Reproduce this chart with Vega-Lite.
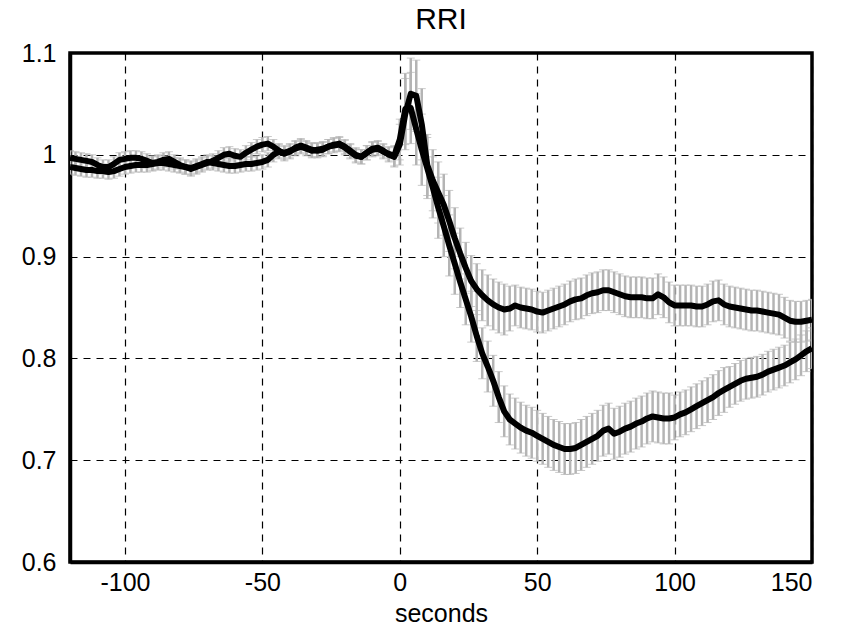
{
  "$schema": "https://vega.github.io/schema/vega-lite/v6.json",
  "width": 742,
  "height": 509,
  "autosize": {"type": "none"},
  "padding": {"left": 70, "top": 53, "right": 46, "bottom": 69},
  "background": "white",
  "title": {"text": "RRI", "fontSize": 30, "font": "Liberation Sans", "fontWeight": "normal", "color": "black", "offset": 6, "anchor": "middle"},
  "config": {
    "view": {"stroke": "black", "strokeWidth": 3.5},
    "axis": {"labelFont": "Liberation Sans", "titleFont": "Liberation Sans", "labelFontSize": 25, "titleFontSize": 25, "labelColor": "black", "titleColor": "black", "titleFontWeight": "normal", "domain": true, "domainColor": "black", "domainWidth": 3.5, "grid": true, "gridColor": "black", "gridDash": [7, 6], "gridWidth": 1.2, "gridOpacity": 1, "ticks": false}
  },
  "data": {"values": [
    {"t": -120, "a": 0.997, "b": 0.988, "ae": 0.007, "be": 0.007},
    {"t": -118, "a": 0.996, "b": 0.987, "ae": 0.007, "be": 0.007},
    {"t": -116, "a": 0.995, "b": 0.986, "ae": 0.007, "be": 0.007},
    {"t": -114, "a": 0.994, "b": 0.985, "ae": 0.007, "be": 0.007},
    {"t": -112, "a": 0.993, "b": 0.985, "ae": 0.007, "be": 0.007},
    {"t": -110, "a": 0.990, "b": 0.984, "ae": 0.007, "be": 0.007},
    {"t": -108, "a": 0.988, "b": 0.984, "ae": 0.007, "be": 0.007},
    {"t": -106, "a": 0.988, "b": 0.983, "ae": 0.007, "be": 0.007},
    {"t": -104, "a": 0.991, "b": 0.984, "ae": 0.007, "be": 0.007},
    {"t": -102, "a": 0.995, "b": 0.986, "ae": 0.007, "be": 0.007},
    {"t": -100, "a": 0.996, "b": 0.988, "ae": 0.007, "be": 0.007},
    {"t": -98, "a": 0.997, "b": 0.989, "ae": 0.007, "be": 0.007},
    {"t": -96, "a": 0.997, "b": 0.990, "ae": 0.007, "be": 0.007},
    {"t": -94, "a": 0.996, "b": 0.990, "ae": 0.007, "be": 0.007},
    {"t": -92, "a": 0.994, "b": 0.990, "ae": 0.007, "be": 0.007},
    {"t": -90, "a": 0.992, "b": 0.991, "ae": 0.007, "be": 0.007},
    {"t": -88, "a": 0.993, "b": 0.992, "ae": 0.007, "be": 0.007},
    {"t": -86, "a": 0.995, "b": 0.992, "ae": 0.007, "be": 0.007},
    {"t": -84, "a": 0.996, "b": 0.991, "ae": 0.007, "be": 0.007},
    {"t": -82, "a": 0.993, "b": 0.990, "ae": 0.007, "be": 0.007},
    {"t": -80, "a": 0.990, "b": 0.989, "ae": 0.007, "be": 0.007},
    {"t": -78, "a": 0.988, "b": 0.988, "ae": 0.007, "be": 0.007},
    {"t": -76, "a": 0.986, "b": 0.987, "ae": 0.007, "be": 0.007},
    {"t": -74, "a": 0.988, "b": 0.989, "ae": 0.007, "be": 0.007},
    {"t": -72, "a": 0.990, "b": 0.991, "ae": 0.007, "be": 0.007},
    {"t": -70, "a": 0.992, "b": 0.993, "ae": 0.007, "be": 0.007},
    {"t": -68, "a": 0.994, "b": 0.992, "ae": 0.007, "be": 0.007},
    {"t": -66, "a": 0.997, "b": 0.991, "ae": 0.007, "be": 0.007},
    {"t": -64, "a": 1.000, "b": 0.990, "ae": 0.007, "be": 0.007},
    {"t": -62, "a": 1.001, "b": 0.989, "ae": 0.007, "be": 0.007},
    {"t": -60, "a": 0.999, "b": 0.989, "ae": 0.007, "be": 0.007},
    {"t": -58, "a": 0.998, "b": 0.990, "ae": 0.007, "be": 0.007},
    {"t": -56, "a": 1.002, "b": 0.991, "ae": 0.007, "be": 0.007},
    {"t": -54, "a": 1.005, "b": 0.991, "ae": 0.007, "be": 0.007},
    {"t": -52, "a": 1.008, "b": 0.992, "ae": 0.007, "be": 0.007},
    {"t": -50, "a": 1.010, "b": 0.993, "ae": 0.007, "be": 0.007},
    {"t": -48, "a": 1.011, "b": 0.995, "ae": 0.007, "be": 0.007},
    {"t": -46, "a": 1.008, "b": 1.000, "ae": 0.007, "be": 0.007},
    {"t": -44, "a": 1.004, "b": 1.003, "ae": 0.007, "be": 0.007},
    {"t": -42, "a": 1.001, "b": 1.002, "ae": 0.007, "be": 0.007},
    {"t": -40, "a": 1.003, "b": 1.004, "ae": 0.007, "be": 0.007},
    {"t": -38, "a": 1.007, "b": 1.006, "ae": 0.007, "be": 0.007},
    {"t": -36, "a": 1.009, "b": 1.008, "ae": 0.007, "be": 0.007},
    {"t": -34, "a": 1.007, "b": 1.006, "ae": 0.007, "be": 0.007},
    {"t": -32, "a": 1.005, "b": 1.004, "ae": 0.007, "be": 0.007},
    {"t": -30, "a": 1.004, "b": 1.005, "ae": 0.007, "be": 0.007},
    {"t": -28, "a": 1.005, "b": 1.006, "ae": 0.007, "be": 0.007},
    {"t": -26, "a": 1.008, "b": 1.008, "ae": 0.007, "be": 0.007},
    {"t": -24, "a": 1.010, "b": 1.009, "ae": 0.007, "be": 0.007},
    {"t": -22, "a": 1.011, "b": 1.010, "ae": 0.007, "be": 0.007},
    {"t": -20, "a": 1.008, "b": 1.007, "ae": 0.007, "be": 0.007},
    {"t": -18, "a": 1.004, "b": 1.003, "ae": 0.007, "be": 0.007},
    {"t": -16, "a": 1.000, "b": 0.999, "ae": 0.007, "be": 0.007},
    {"t": -14, "a": 0.998, "b": 0.998, "ae": 0.007, "be": 0.007},
    {"t": -12, "a": 1.002, "b": 1.002, "ae": 0.007, "be": 0.007},
    {"t": -10, "a": 1.006, "b": 1.005, "ae": 0.007, "be": 0.007},
    {"t": -8, "a": 1.007, "b": 1.006, "ae": 0.007, "be": 0.007},
    {"t": -6, "a": 1.004, "b": 1.003, "ae": 0.007, "be": 0.007},
    {"t": -4, "a": 1.000, "b": 1.001, "ae": 0.007, "be": 0.007},
    {"t": -2, "a": 0.998, "b": 0.999, "ae": 0.010, "be": 0.010},
    {"t": 0, "a": 1.010, "b": 1.015, "ae": 0.020, "be": 0.020},
    {"t": 2, "a": 1.040, "b": 1.045, "ae": 0.035, "be": 0.035},
    {"t": 4, "a": 1.060, "b": 1.046, "ae": 0.035, "be": 0.035},
    {"t": 6, "a": 1.058, "b": 1.025, "ae": 0.035, "be": 0.035},
    {"t": 8, "a": 1.030, "b": 1.005, "ae": 0.035, "be": 0.035},
    {"t": 10, "a": 0.990, "b": 0.987, "ae": 0.030, "be": 0.030},
    {"t": 12, "a": 0.975, "b": 0.968, "ae": 0.030, "be": 0.030},
    {"t": 14, "a": 0.963, "b": 0.948, "ae": 0.030, "be": 0.030},
    {"t": 16, "a": 0.951, "b": 0.930, "ae": 0.030, "be": 0.030},
    {"t": 18, "a": 0.935, "b": 0.911, "ae": 0.030, "be": 0.030},
    {"t": 20, "a": 0.918, "b": 0.893, "ae": 0.030, "be": 0.030},
    {"t": 22, "a": 0.903, "b": 0.875, "ae": 0.025, "be": 0.025},
    {"t": 24, "a": 0.889, "b": 0.858, "ae": 0.025, "be": 0.025},
    {"t": 26, "a": 0.876, "b": 0.841, "ae": 0.025, "be": 0.025},
    {"t": 28, "a": 0.868, "b": 0.822, "ae": 0.025, "be": 0.025},
    {"t": 30, "a": 0.862, "b": 0.805, "ae": 0.025, "be": 0.025},
    {"t": 32, "a": 0.857, "b": 0.792, "ae": 0.025, "be": 0.025},
    {"t": 34, "a": 0.853, "b": 0.778, "ae": 0.025, "be": 0.025},
    {"t": 36, "a": 0.850, "b": 0.762, "ae": 0.025, "be": 0.025},
    {"t": 38, "a": 0.848, "b": 0.748, "ae": 0.025, "be": 0.025},
    {"t": 40, "a": 0.849, "b": 0.740, "ae": 0.022, "be": 0.025},
    {"t": 42, "a": 0.852, "b": 0.736, "ae": 0.020, "be": 0.025},
    {"t": 44, "a": 0.850, "b": 0.732, "ae": 0.020, "be": 0.025},
    {"t": 46, "a": 0.849, "b": 0.729, "ae": 0.020, "be": 0.025},
    {"t": 48, "a": 0.848, "b": 0.727, "ae": 0.020, "be": 0.025},
    {"t": 50, "a": 0.846, "b": 0.724, "ae": 0.020, "be": 0.025},
    {"t": 52, "a": 0.845, "b": 0.721, "ae": 0.020, "be": 0.025},
    {"t": 54, "a": 0.847, "b": 0.718, "ae": 0.020, "be": 0.025},
    {"t": 56, "a": 0.849, "b": 0.715, "ae": 0.020, "be": 0.025},
    {"t": 58, "a": 0.851, "b": 0.713, "ae": 0.020, "be": 0.025},
    {"t": 60, "a": 0.853, "b": 0.711, "ae": 0.020, "be": 0.025},
    {"t": 62, "a": 0.856, "b": 0.711, "ae": 0.020, "be": 0.025},
    {"t": 64, "a": 0.858, "b": 0.712, "ae": 0.020, "be": 0.025},
    {"t": 66, "a": 0.859, "b": 0.715, "ae": 0.020, "be": 0.025},
    {"t": 68, "a": 0.862, "b": 0.718, "ae": 0.020, "be": 0.025},
    {"t": 70, "a": 0.864, "b": 0.721, "ae": 0.020, "be": 0.025},
    {"t": 72, "a": 0.865, "b": 0.724, "ae": 0.020, "be": 0.025},
    {"t": 74, "a": 0.867, "b": 0.729, "ae": 0.020, "be": 0.025},
    {"t": 76, "a": 0.867, "b": 0.731, "ae": 0.020, "be": 0.025},
    {"t": 78, "a": 0.865, "b": 0.726, "ae": 0.020, "be": 0.025},
    {"t": 80, "a": 0.863, "b": 0.728, "ae": 0.020, "be": 0.025},
    {"t": 82, "a": 0.861, "b": 0.731, "ae": 0.020, "be": 0.025},
    {"t": 84, "a": 0.860, "b": 0.733, "ae": 0.020, "be": 0.025},
    {"t": 86, "a": 0.860, "b": 0.736, "ae": 0.020, "be": 0.025},
    {"t": 88, "a": 0.860, "b": 0.738, "ae": 0.020, "be": 0.025},
    {"t": 90, "a": 0.859, "b": 0.741, "ae": 0.020, "be": 0.025},
    {"t": 92, "a": 0.859, "b": 0.743, "ae": 0.020, "be": 0.025},
    {"t": 94, "a": 0.863, "b": 0.742, "ae": 0.020, "be": 0.025},
    {"t": 96, "a": 0.860, "b": 0.741, "ae": 0.020, "be": 0.025},
    {"t": 98, "a": 0.855, "b": 0.741, "ae": 0.020, "be": 0.025},
    {"t": 100, "a": 0.852, "b": 0.742, "ae": 0.020, "be": 0.022},
    {"t": 102, "a": 0.852, "b": 0.745, "ae": 0.020, "be": 0.022},
    {"t": 104, "a": 0.852, "b": 0.747, "ae": 0.020, "be": 0.022},
    {"t": 106, "a": 0.852, "b": 0.750, "ae": 0.020, "be": 0.022},
    {"t": 108, "a": 0.851, "b": 0.753, "ae": 0.020, "be": 0.022},
    {"t": 110, "a": 0.851, "b": 0.756, "ae": 0.020, "be": 0.022},
    {"t": 112, "a": 0.853, "b": 0.759, "ae": 0.020, "be": 0.022},
    {"t": 114, "a": 0.856, "b": 0.762, "ae": 0.020, "be": 0.022},
    {"t": 116, "a": 0.857, "b": 0.766, "ae": 0.020, "be": 0.022},
    {"t": 118, "a": 0.853, "b": 0.769, "ae": 0.020, "be": 0.022},
    {"t": 120, "a": 0.851, "b": 0.772, "ae": 0.020, "be": 0.020},
    {"t": 122, "a": 0.850, "b": 0.775, "ae": 0.020, "be": 0.020},
    {"t": 124, "a": 0.849, "b": 0.778, "ae": 0.020, "be": 0.020},
    {"t": 126, "a": 0.848, "b": 0.780, "ae": 0.020, "be": 0.020},
    {"t": 128, "a": 0.847, "b": 0.781, "ae": 0.020, "be": 0.020},
    {"t": 130, "a": 0.847, "b": 0.782, "ae": 0.020, "be": 0.020},
    {"t": 132, "a": 0.846, "b": 0.784, "ae": 0.020, "be": 0.020},
    {"t": 134, "a": 0.845, "b": 0.787, "ae": 0.020, "be": 0.020},
    {"t": 136, "a": 0.844, "b": 0.789, "ae": 0.020, "be": 0.020},
    {"t": 138, "a": 0.843, "b": 0.791, "ae": 0.020, "be": 0.020},
    {"t": 140, "a": 0.840, "b": 0.793, "ae": 0.020, "be": 0.020},
    {"t": 142, "a": 0.837, "b": 0.796, "ae": 0.020, "be": 0.020},
    {"t": 144, "a": 0.836, "b": 0.799, "ae": 0.020, "be": 0.020},
    {"t": 146, "a": 0.836, "b": 0.803, "ae": 0.020, "be": 0.020},
    {"t": 148, "a": 0.837, "b": 0.807, "ae": 0.020, "be": 0.020},
    {"t": 150, "a": 0.838, "b": 0.810, "ae": 0.020, "be": 0.020}
  ]},
  "encoding": {
    "x": {"field": "t", "type": "quantitative", "scale": {"domain": [-120, 150], "nice": false, "zero": false},
          "axis": {"title": "seconds", "values": [-100, -50, 0, 50, 100, 150], "labelExpr": "datum.value + ''", "labelPadding": 8, "titlePadding": 6}}
  },
  "layer": [
    {
      "mark": {"type": "errorbar", "ticks": {"size": 8, "color": "#b4b4b4", "strokeWidth": 1.5}, "rule": {"color": "#b4b4b4", "strokeWidth": 2.5}, "color": "#b4b4b4", "clip": true},
      "encoding": {
        "y": {"field": "a", "type": "quantitative", "scale": {"domain": [0.6, 1.1], "nice": false, "zero": false},
              "axis": {"title": null, "values": [0.6, 0.7, 0.8, 0.9, 1.0, 1.1], "format": "~g", "labelPadding": 14}},
        "yError": {"field": "ae"}
      }
    },
    {
      "mark": {"type": "errorbar", "ticks": {"size": 8, "color": "#b4b4b4", "strokeWidth": 1.5}, "rule": {"color": "#b4b4b4", "strokeWidth": 2.5}, "color": "#b4b4b4", "clip": true},
      "encoding": {
        "y": {"field": "b", "type": "quantitative"},
        "yError": {"field": "be"}
      }
    },
    {
      "mark": {"type": "line", "color": "black", "strokeWidth": 6, "strokeJoin": "round", "clip": true},
      "encoding": {"y": {"field": "a", "type": "quantitative"}}
    },
    {
      "mark": {"type": "line", "color": "black", "strokeWidth": 6, "strokeJoin": "round", "clip": true},
      "encoding": {"y": {"field": "b", "type": "quantitative"}}
    }
  ]
}
